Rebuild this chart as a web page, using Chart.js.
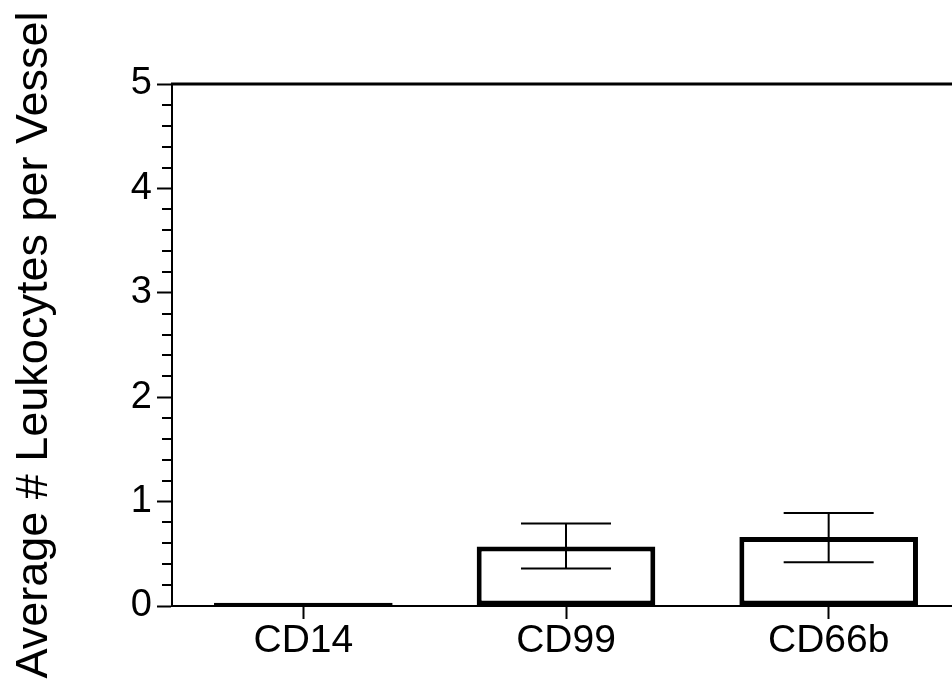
<!DOCTYPE html>
<html>
<head>
<meta charset="utf-8">
<script src="https://cdn.jsdelivr.net/npm/chart.js@4/dist/chart.umd.min.js"></script>
<style>
  html, body { margin: 0; padding: 0; background: #fff; overflow: hidden; }
  #wrap { width: 960px; height: 690px; }
</style>
</head>
<body>
<div id="wrap"><canvas id="grafico" width="960" height="690"></canvas></div>
<script>
const categorias = ["CD14", "CD99", "CD66b"];
const medias = [0.03, 0.57, 0.66];
const erroMin = [null, 0.36, 0.42];
const erroMax = [null, 0.79, 0.89];
const yMin = 0, yMax = 5;

const fonte = "'Liberation Sans', Arial, Helvetica, sans-serif";

// barras de erro, traços menores do eixo y e linha de cima
const extras = {
  id: "extras",
  afterDatasetsDraw(chart) {
    const ctx = chart.ctx;
    const x = chart.scales.x, y = chart.scales.y;
    const area = chart.chartArea;
    ctx.save();
    ctx.strokeStyle = "#000";

    ctx.lineWidth = 2;
    for (let i = 0; i < categorias.length; i++) {
      if (erroMin[i] == null) continue;
      const cx = x.getPixelForValue(i);
      const y1 = y.getPixelForValue(erroMin[i]);
      const y2 = y.getPixelForValue(erroMax[i]);
      ctx.beginPath();
      ctx.moveTo(cx, y1); ctx.lineTo(cx, y2);
      ctx.moveTo(cx - 45, y1); ctx.lineTo(cx + 45, y1);
      ctx.moveTo(cx - 45, y2); ctx.lineTo(cx + 45, y2);
      ctx.stroke();
    }

    // traços menores (a cada 0.2)
    for (let v = yMin; v <= yMax + 1e-9; v += 0.2) {
      if (Math.abs(v - Math.round(v)) < 1e-6) continue;
      const py = Math.round(y.getPixelForValue(v));
      ctx.beginPath();
      ctx.moveTo(area.left, py); ctx.lineTo(area.left - 10, py);
      ctx.stroke();
    }

    ctx.lineWidth = 3;
    ctx.beginPath();
    ctx.moveTo(area.left - 1, area.top);
    ctx.lineTo(chart.width, area.top);
    ctx.stroke();
    ctx.restore();
  }
};

new Chart(document.getElementById("grafico"), {
  type: "bar",
  data: {
    labels: categorias,
    datasets: [{
      data: medias,
      backgroundColor: "#fff",
      borderColor: "#000",
      borderWidth: 5,
      borderSkipped: false,
      categoryPercentage: 1,
      barPercentage: 0.68
    }]
  },
  options: {
    responsive: false,
    animation: false,
    layout: { padding: { top: 84, left: 0, right: 0, bottom: 0 } },
    plugins: { legend: { display: false }, tooltip: { enabled: false } },
    scales: {
      x: {
        grid: { offset: false, drawOnChartArea: false, drawTicks: true, tickLength: 13, tickWidth: 2, tickColor: "#000" },
        border: { color: "#000", width: 2 },
        ticks: { color: "#000", padding: 3, font: { family: fonte, size: 39, lineHeight: 1 } },
        afterFit(scale) { scale.height = 84; }
      },
      y: {
        min: yMin,
        max: yMax,
        grid: {
          drawOnChartArea: false, drawTicks: true, tickLength: 15, tickWidth: 2,
          tickColor: (c) => (c.tick && Math.abs(c.tick.value - Math.round(c.tick.value)) < 1e-6) ? "#000" : "rgba(0,0,0,0)"
        },
        border: { color: "#000", width: 2 },
        ticks: {
          stepSize: 0.2,
          autoSkip: false,
          color: "#000",
          padding: 5,
          font: { family: fonte, size: 38 },
          callback: (v) => Math.abs(v - Math.round(v)) < 1e-6 ? String(Math.round(v)) : ""
        },
        title: {
          display: true,
          text: "Average # Leukocytes per Vessel",
          color: "#000",
          padding: { top: 8, bottom: 0 },
          font: { family: fonte, size: 45 }
        },
        afterFit(scale) { scale.width = 172; }
      }
    }
  },
  plugins: [extras]
});
</script>
</body>
</html>
